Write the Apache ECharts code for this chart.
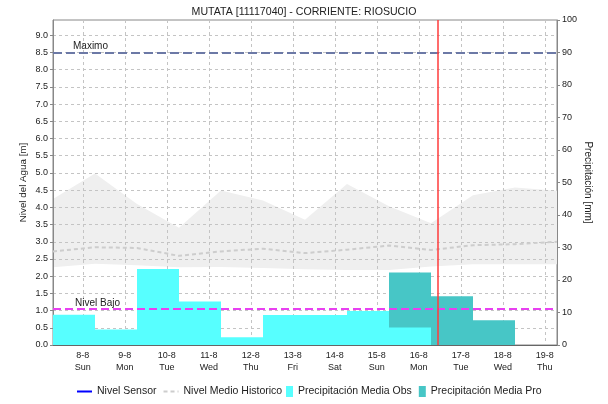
<!DOCTYPE html>
<html><head><meta charset="utf-8">
<script src="https://cdn.jsdelivr.net/npm/echarts@6/dist/echarts.min.js"></script>
<style>html,body{margin:0;padding:0;background:#fff}#c{width:608px;height:404px}</style>
</head><body><div id="c"></div>
<script>
// ---- data ----
const titleText = 'MUTATA [11117040] - CORRIENTE: RIOSUCIO';
const dayLabels = ['8-8','9-8','10-8','11-8','12-8','13-8','14-8','15-8','16-8','17-8','18-8','19-8'];
const weekdayLabels = ['Sun','Mon','Tue','Wed','Thu','Fri','Sat','Sun','Mon','Tue','Wed','Thu'];
const dayTicks = [0.71,1.71,2.71,3.71,4.71,5.71,6.71,7.71,8.71,9.71,10.71,11.71];
const dayBins = [0,1,2,3,4,5,6,7,8,9,10];
const precipObs = [9.3, 4.8, 23.4, 13.4, 2.4, 9.2, 9.2, 10.5, 5.4];
const precipPro = [null, null, null, null, null, null, null, null, 22.3, 15.0, 7.6];
const histX = [0,1,2,3,4,5,6,7,8,9,10,11,12];
const histUpper = [4.24, 4.98, 4.10, 3.41, 4.49, 4.20, 3.64, 4.68, 4.03, 3.54, 4.35, 4.58, 4.48];
const histLower = [2.26, 2.36, 2.32, 2.26, 2.27, 2.24, 2.20, 2.18, 2.18, 2.28, 2.35, 2.35, 2.35];
const histMean  = [2.72, 2.84, 2.82, 2.59, 2.72, 2.80, 2.67, 2.77, 2.89, 2.76, 2.90, 2.93, 3.00];
const nivelSensor = [];
const nivelMaximo = 8.5;
const nivelBajo = 1.05;
const nowMark = 9.17;
const levelTicks = [0,0.5,1,1.5,2,2.5,3,3.5,4,4.5,5,5.5,6,6.5,7,7.5,8,8.5,9];

// ---- chart ----
const FONT = 'Liberation Sans, Arial, sans-serif';
const chart = echarts.init(document.getElementById('c'), null, {renderer:'canvas'});
const meanData = histX.map((x,i)=>[x, histMean[i]]);
const obsData = precipObs.map((v,i)=>[dayBins[i], v]);
const proData = precipPro.map((v,i)=> v==null ? null : [dayBins[i], v]).filter(Boolean);

function binRect(params, api){
  const x = api.value(0), v = api.value(1);
  const p0 = api.coord([x, v]);
  const p1 = api.coord([x+1, 0]);
  return {type:'rect', shape:{x:p0[0], y:p0[1], width:p1[0]-p0[0], height:p1[1]-p0[1]}, style: api.style()};
}
function bandPoly(params, api){
  const pts = [];
  for (let i=0;i<histX.length;i++) pts.push(api.coord([histX[i], histUpper[i]]));
  for (let i=histX.length-1;i>=0;i--) pts.push(api.coord([histX[i], histLower[i]]));
  return {type:'polygon', shape:{points:pts}, style:{fill:'#efefef'}};
}
const gridDash = {color:'#c4c4c4', type:[3,3], width:1};
const lblStyle = {fontSize:10.5, color:'#222', fontFamily:FONT};

chart.setOption({
  animation:false,
  backgroundColor:'#fff',
  textStyle:{fontFamily:FONT},
  title:{text:titleText, left:'center', top:2, textStyle:{fontSize:10.6, fontWeight:'normal', color:'#222', fontFamily:FONT}},
  grid:{left:53, right:51, top:20, bottom:59, show:true, borderColor:'#888', borderWidth:1, backgroundColor:'transparent'},
  legend:[
    {left:76, top:386, padding:0, itemWidth:15, itemHeight:10, itemGap:6,
     itemStyle:{opacity:0}, data:['Nivel Sensor','Nivel Medio Historico'], textStyle:lblStyle},
    {left:286, top:386, padding:0, itemWidth:7, itemHeight:11, itemGap:7, icon:'rect',
     data:['Precipitación Media Obs','Precipitación Media Pro'], textStyle:lblStyle}
  ],
  xAxis:[
    {type:'value', min:0, max:12, z:2, position:'bottom',
     axisLine:{show:true, onZero:false, lineStyle:{color:'#666'}}, axisTick:{show:false, customValues:dayTicks},
     axisLabel:{show:true, customValues:dayTicks, fontSize:9, color:'#222', lineHeight:12, margin:5, fontFamily:FONT,
       formatter:(v)=>{ const i = dayTicks.indexOf(v); return dayLabels[i] + '\n' + weekdayLabels[i]; }},
     splitLine:{show:true, lineStyle:gridDash}}
  ],
  yAxis:[
    {type:'value', min:0, max:9.444, z:2, position:'left',
     name:'Nivel del Agua [m]', nameLocation:'middle', nameGap:25, nameMoveOverlap:false,
     nameTextStyle:{fontSize:9.8, color:'#222', fontFamily:FONT},
     axisLine:{show:true, onZero:false, lineStyle:{color:'#888'}}, axisTick:{show:true, length:3, lineStyle:{color:'#888'}, customValues:levelTicks},
     axisLabel:{fontSize:9, color:'#222', margin:5, customValues:levelTicks, formatter:(v)=>v.toFixed(1)},
     splitLine:{show:true, lineStyle:gridDash}},
    {type:'value', min:0, max:100, interval:10, position:'right', z:2,
     name:'Precipitación [mm]', nameLocation:'middle', nameRotate:-90, nameGap:26, nameMoveOverlap:false,
     nameTextStyle:{fontSize:10, color:'#222', fontFamily:FONT},
     axisLine:{show:true, onZero:false, lineStyle:{color:'#888'}}, axisTick:{show:true, length:3, lineStyle:{color:'#888'}},
     axisLabel:{fontSize:9, color:'#222', margin:5}, splitLine:{show:false}}
  ],
  series:[
    {name:'Banda Historica', type:'custom', xAxisIndex:0, yAxisIndex:0, data:[[0, histLower[0]]], renderItem:bandPoly,
     silent:true, z:1, clip:true},
    {name:'Precipitación Media Pro', type:'custom', xAxisIndex:0, yAxisIndex:1, data:proData, renderItem:binRect,
     itemStyle:{color:'#47c6c6'}, encode:{x:0, y:1}, z:3},
    {name:'Precipitación Media Obs', type:'custom', xAxisIndex:0, yAxisIndex:1, data:obsData, renderItem:binRect,
     itemStyle:{color:'#57ffff'}, encode:{x:0, y:1}, z:3.5},
    {name:'Nivel Sensor', type:'line', data:nivelSensor, symbol:'none', lineStyle:{color:'#0000ff', width:1.5}, itemStyle:{color:'#0000ff'}, z:4},
    {name:'Nivel Medio Historico', type:'line', data:meanData, symbol:'none', smooth:false,
     lineStyle:{color:'#cdcdcd', width:2, type:[4,3]}, itemStyle:{color:'#cdcdcd'}, z:4,
     markLine:{silent:true, symbol:'none', animation:false,
       data:[
         {yAxis:nivelMaximo, lineStyle:{color:'#6c79a6', width:2, type:[9,4]},
          label:{show:true, formatter:'Maximo', position:'insideStartTop', distance:[20,1], fontSize:10, color:'#222', fontFamily:FONT}},
         {yAxis:nivelBajo, lineStyle:{color:'#e840f0', width:2, type:[8,4]},
          label:{show:true, formatter:'Nivel Bajo', position:'insideStartTop', distance:[22,1], fontSize:10, color:'#222', fontFamily:FONT}},
         {xAxis:nowMark, lineStyle:{color:'#ff3b3b', width:1.5, type:'solid'}, label:{show:false}}
       ]}}
  ]
});
</script></body></html>
